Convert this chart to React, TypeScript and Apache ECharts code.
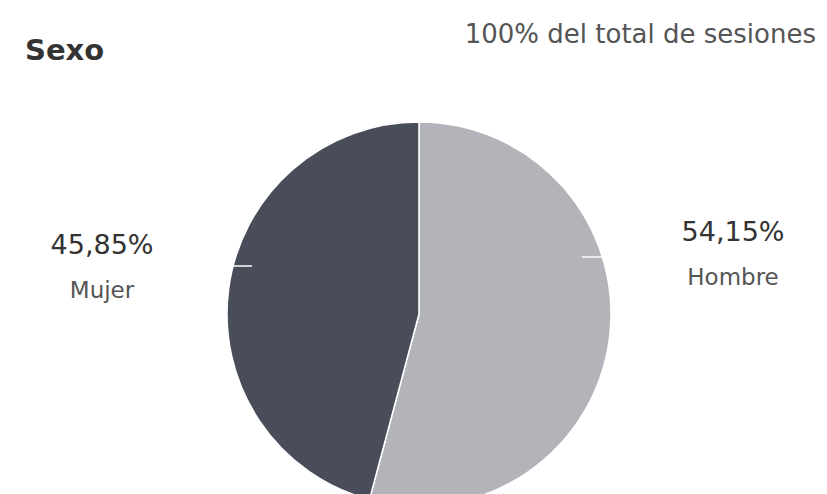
import React, { useEffect, useRef } from "react";
import * as echarts from "echarts";

const categories = ["Hombre", "Mujer"];
const values = [54.15, 45.85];
const colors = ["#b2b4ba", "#484d59"];
const titleText = "Sexo";
const subtitleText = "100% del total de sesiones";

export default function App() {
  const ref = useRef<HTMLDivElement>(null);
  useEffect(() => {
    document.body.style.margin = "0";
    const chart = echarts.init(ref.current!, null, { renderer: "svg" });
    const fmt = (v: number) => v.toFixed(2).replace(".", ",") + "%";
    chart.setOption({
      animation: false,
      backgroundColor: "#ffffff",
      title: [
        {
          text: titleText,
          left: 20,
          top: 30,
          textStyle: { fontFamily: "DejaVu Sans", fontWeight: "bold", fontSize: 29, color: "#333" },
        },
        {
          text: subtitleText,
          right: 6,
          top: 16,
          textStyle: { fontFamily: "DejaVu Sans", fontWeight: "normal", fontSize: 26, color: "#555" },
        },
      ],
      graphic: [
        { type: "line", shape: { x1: 226, y1: 266, x2: 252, y2: 266 }, style: { stroke: "#ffffff", lineWidth: 1.5 }, z: 100 },
        { type: "line", shape: { x1: 582, y1: 257, x2: 605, y2: 257 }, style: { stroke: "#ffffff", lineWidth: 1.5 }, z: 100 },
      ],
      series: [
        {
          type: "pie",
          center: [419, 314],
          radius: 192,
          startAngle: 90,
          clockwise: true,
          silent: true,
          itemStyle: { borderColor: "#ffffff", borderWidth: 1.5 },
          labelLine: { show: false },
          label: {
            show: true,
            position: "outside",
            fontFamily: "DejaVu Sans",
            formatter: (p: any) => `{v|${fmt(p.value)}}\n{n|${p.name}}`,
            rich: {
              v: { fontFamily: "DejaVu Sans", fontSize: 27, color: "#333", lineHeight: 46, align: "center" },
              n: { fontFamily: "DejaVu Sans", fontSize: 23, color: "#555", lineHeight: 46, align: "center" },
            },
          },
          labelLayout: (params: any) =>
            params.dataIndex === 0
              ? { x: 733, y: 254, align: "center", verticalAlign: "middle" }
              : { x: 102, y: 267, align: "center", verticalAlign: "middle" },
          data: categories.map((c, i) => ({ name: c, value: values[i], itemStyle: { color: colors[i] } })),
        },
      ],
    });
    return () => chart.dispose();
  }, []);
  return <div ref={ref} style={{ width: 827, height: 494 }} />;
}
